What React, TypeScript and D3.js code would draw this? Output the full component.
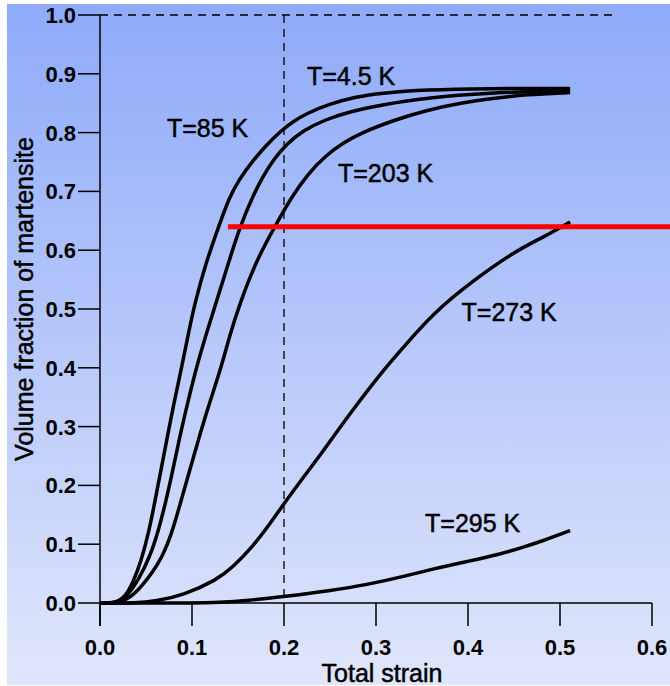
import React from "react";
import * as d3 from "d3";

const W = 670;
const H = 686;

const xTicks = [0, 0.1, 0.2, 0.3, 0.4, 0.5, 0.6];
const yTicks = [0, 0.1, 0.2, 0.3, 0.4, 0.5, 0.6, 0.7, 0.8, 0.9, 1.0];

const t85: [number, number][] = [
  [0, 0], [0.018, 0], [0.028, 0.012], [0.036, 0.035], [0.045, 0.073], [0.053, 0.12],
  [0.060, 0.175], [0.067, 0.232], [0.074, 0.289], [0.081, 0.345], [0.089, 0.402],
  [0.096, 0.458], [0.103, 0.51], [0.116, 0.583], [0.129, 0.64], [0.14, 0.688],
  [0.151, 0.72], [0.165, 0.75], [0.181, 0.779], [0.196, 0.802], [0.21, 0.819],
  [0.225, 0.833], [0.25, 0.849], [0.279, 0.861], [0.304, 0.867], [0.355, 0.873],
  [0.42, 0.875], [0.511, 0.875],
];
const t45: [number, number][] = [
  [0, 0], [0.018, 0], [0.03, 0.012], [0.042, 0.04], [0.054, 0.078], [0.063, 0.12],
  [0.072, 0.175], [0.08, 0.232], [0.087, 0.285], [0.096, 0.345], [0.105, 0.402],
  [0.116, 0.46], [0.127, 0.515], [0.139, 0.575], [0.152, 0.64], [0.167, 0.695],
  [0.177, 0.725], [0.188, 0.753], [0.203, 0.781], [0.221, 0.804], [0.245, 0.822],
  [0.268, 0.834], [0.304, 0.847], [0.36, 0.86], [0.426, 0.868], [0.511, 0.872],
];
const t203: [number, number][] = [
  [0, 0], [0.02, 0], [0.034, 0.01], [0.046, 0.03], [0.056, 0.05], [0.067, 0.076],
  [0.078, 0.118], [0.087, 0.168], [0.098, 0.228], [0.109, 0.289], [0.12, 0.345],
  [0.132, 0.402], [0.141, 0.455], [0.151, 0.505], [0.17, 0.583], [0.19, 0.64],
  [0.208, 0.69], [0.226, 0.73], [0.246, 0.762], [0.265, 0.783], [0.283, 0.799],
  [0.319, 0.821], [0.355, 0.838], [0.391, 0.85], [0.427, 0.858], [0.463, 0.865],
  [0.511, 0.868],
];
const t273: [number, number][] = [
  [0, 0], [0.04, 0], [0.06, 0.003], [0.09, 0.013], [0.127, 0.039], [0.145, 0.062],
  [0.166, 0.096], [0.185, 0.135], [0.199, 0.167], [0.225, 0.222], [0.24, 0.253],
  [0.272, 0.323], [0.308, 0.396], [0.326, 0.428], [0.362, 0.493], [0.406, 0.549],
  [0.453, 0.6], [0.482, 0.622], [0.511, 0.648],
];
const t295: [number, number][] = [
  [0, 0], [0.05, 0], [0.1, 0], [0.13, 0.001], [0.16, 0.004], [0.2, 0.011],
  [0.25, 0.021], [0.29, 0.031], [0.33, 0.045], [0.362, 0.058], [0.4, 0.071],
  [0.435, 0.083], [0.46, 0.095], [0.48, 0.105], [0.511, 0.123],
];
const seriesList = [t85, t45, t203, t273, t295];

const labelTexts = ["T=4.5 K", "T=85 K", "T=203 K", "T=273 K", "T=295 K"];
const labelS = [0.225, 0.0728, 0.2587, 0.393, 0.3533];
const labelV = [0.881, 0.7925, 0.716, 0.4796, 0.1207];

const redLevel = 0.64;
const redStart = 0.139;
const vGuide = 0.2;
const topGuideEnd = 0.563;

export default function App() {
  const x = d3.scaleLinear().domain([0, 0.6]).range([100, 652]);
  const y = d3.scaleLinear().domain([0, 1]).range([603, 15]);
  const line = d3
    .line<[number, number]>()
    .x((d) => x(d[0]))
    .y((d) => y(d[1]))
    .curve(d3.curveBasis);
  const fmt = d3.format(".1f");
  const font = "'Liberation Sans', Arial, sans-serif";

  return (
    <svg
      width={W}
      height={H}
      style={{ position: "absolute", left: 0, top: 0 }}
      fontFamily={font}
    >
      <defs>
        <linearGradient id="bg" x1="0" y1="0" x2="0" y2="1">
          <stop offset="0%" stopColor="#8eaaf9" />
          <stop offset="100%" stopColor="#e0e6fb" />
        </linearGradient>
      </defs>
      <rect x={0} y={0} width={W} height={H} fill="#ffffff" />
      <rect x={7} y={4} width={W - 7} height={H - 5} fill="url(#bg)" />

      {/* guides */}
      <line
        x1={x(0)}
        x2={x(topGuideEnd)}
        y1={y(1)}
        y2={y(1)}
        stroke="#000"
        strokeWidth={1.3}
        strokeDasharray="8,6"
      />
      <line
        x1={x(vGuide)}
        x2={x(vGuide)}
        y1={y(1)}
        y2={y(0)}
        stroke="#000"
        strokeWidth={1.3}
        strokeDasharray="8,6"
      />

      {/* axes */}
      <line x1={x(0)} x2={x(0)} y1={y(1)} y2={y(0) + 23} stroke="#000" strokeWidth={1.5} />
      <line x1={x(0)} x2={x(0.6)} y1={y(0)} y2={y(0)} stroke="#000" strokeWidth={1.5} />
      {yTicks.map((t) => (
        <g key={"y" + t}>
          <line x1={x(0) - 22} x2={x(0)} y1={y(t)} y2={y(t)} stroke="#000" strokeWidth={1.5} />
          <text
            x={x(0) - 24}
            y={y(t) + 8}
            textAnchor="end"
            fontSize={22}
            fontWeight="bold"
            fill="#000"
          >
            {fmt(t)}
          </text>
        </g>
      ))}
      {xTicks.map((t) => (
        <g key={"x" + t}>
          <line x1={x(t)} x2={x(t)} y1={y(0)} y2={y(0) + 23} stroke="#000" strokeWidth={1.5} />
          <text x={x(t)} y={655} textAnchor="middle" fontSize={22} fontWeight="bold" fill="#000">
            {fmt(t)}
          </text>
        </g>
      ))}
      <text
        x={382}
        y={682}
        textAnchor="middle"
        fontSize={25}
        fill="#000"
        stroke="#000"
        strokeWidth={0.5}
      >
        Total strain
      </text>
      <text
        transform={`translate(33, ${299}) rotate(-90)`}
        textAnchor="middle"
        fontSize={25}
        fill="#000"
        stroke="#000"
        strokeWidth={0.5}
      >
        Volume fraction of martensite
      </text>

      {/* curves */}
      {seriesList.map((s, i) => (
        <path
          key={i}
          d={line(s) || ""}
          fill="none"
          stroke="#000"
          strokeWidth={3.5}
          strokeLinejoin="round"
        />
      ))}

      {/* red line */}
      <line
        x1={x(redStart)}
        x2={W}
        y1={y(redLevel)}
        y2={y(redLevel)}
        stroke="#ff0000"
        strokeWidth={5}
      />

      {labelTexts.map((t, i) => (
        <text
          key={t}
          x={x(labelS[i])}
          y={y(labelV[i])}
          fontSize={25}
          fill="#000"
          stroke="#000"
          strokeWidth={0.5}
        >
          {t}
        </text>
      ))}
    </svg>
  );
}
